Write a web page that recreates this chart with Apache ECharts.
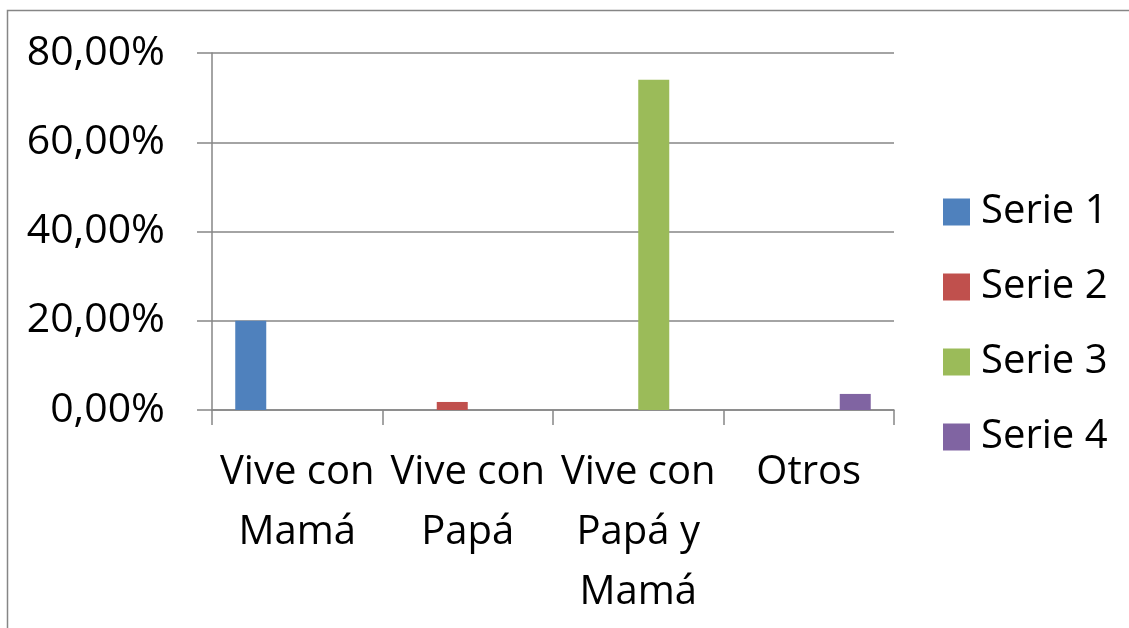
<!DOCTYPE html>
<html>
<head>
<meta charset="utf-8">
<script src="https://cdn.jsdelivr.net/npm/echarts@6/dist/echarts.min.js"></script>
<style>
  html, body { margin: 0; padding: 0; background: #fff; }
  #chart { width: 1129px; height: 628px; }
</style>
</head>
<body>
<div id="chart"></div>
<script>
// datos (porcentajes)
const categories = ['Vive con\nMamá', 'Vive con\nPapá', 'Vive con\nPapá y\nMamá', 'Otros'];
const seriesNames = ['Serie 1', 'Serie 2', 'Serie 3', 'Serie 4'];
const serie1 = [20, 0, 0, 0];
const serie2 = [0, 1.8, 0, 0];
const serie3 = [0, 0, 74, 0];
const serie4 = [0, 0, 0, 3.6];
const yTicks = [0, 20, 40, 60, 80];

const colors = ['#4F81BD', '#C0504D', '#9BBB59', '#8064A2'];
const gray = '#868686';
const font = '"Open Sans", "Liberation Sans", sans-serif';

const chart = echarts.init(document.getElementById('chart'));

const allData = [serie1, serie2, serie3, serie4];

const option = {
  animation: false,
  color: colors,
  graphic: [{
    type: 'rect',
    shape: { x: 7.5, y: 10.5, width: 1300, height: 800 },
    style: { fill: null, stroke: gray, lineWidth: 1.5 },
    silent: true
  }],
  grid: { left: 212, right: 235, top: 53, bottom: 218 },
  legend: {
    orient: 'vertical',
    left: 938,
    top: 187,
    icon: 'rect',
    itemWidth: 27,
    itemHeight: 27,
    itemGap: 35,
    textStyle: { fontFamily: font, fontSize: 40, color: '#000', lineHeight: 40, padding: [0, 0, 0, 6] },
    data: seriesNames
  },
  xAxis: {
    type: 'category',
    data: categories,
    axisLine: { lineStyle: { color: gray, width: 1.5 } },
    axisTick: { show: true, length: 15, lineStyle: { color: gray, width: 1.5 } },
    axisLabel: { fontFamily: font, fontSize: 40, color: '#000', lineHeight: 60, margin: 33, interval: 0 }
  },
  yAxis: {
    type: 'value',
    min: yTicks[0],
    max: yTicks[yTicks.length - 1],
    interval: 20,
    axisLine: { show: true, lineStyle: { color: gray, width: 1.5 } },
    axisTick: { show: true, length: 15, lineStyle: { color: gray, width: 1.5 } },
    splitLine: { lineStyle: { color: gray, width: 1.5 } },
    axisLabel: {
      fontFamily: font, fontSize: 41, color: '#000', margin: 47,
      formatter: v => v.toFixed(2).replace('.', ',') + '%'
    }
  },
  series: seriesNames.map((name, i) => ({
    name: name,
    type: 'bar',
    data: allData[i],
    barGap: '0%',
    barCategoryGap: '27.27%'
  }))
};

chart.setOption(option);
</script>
</body>
</html>
